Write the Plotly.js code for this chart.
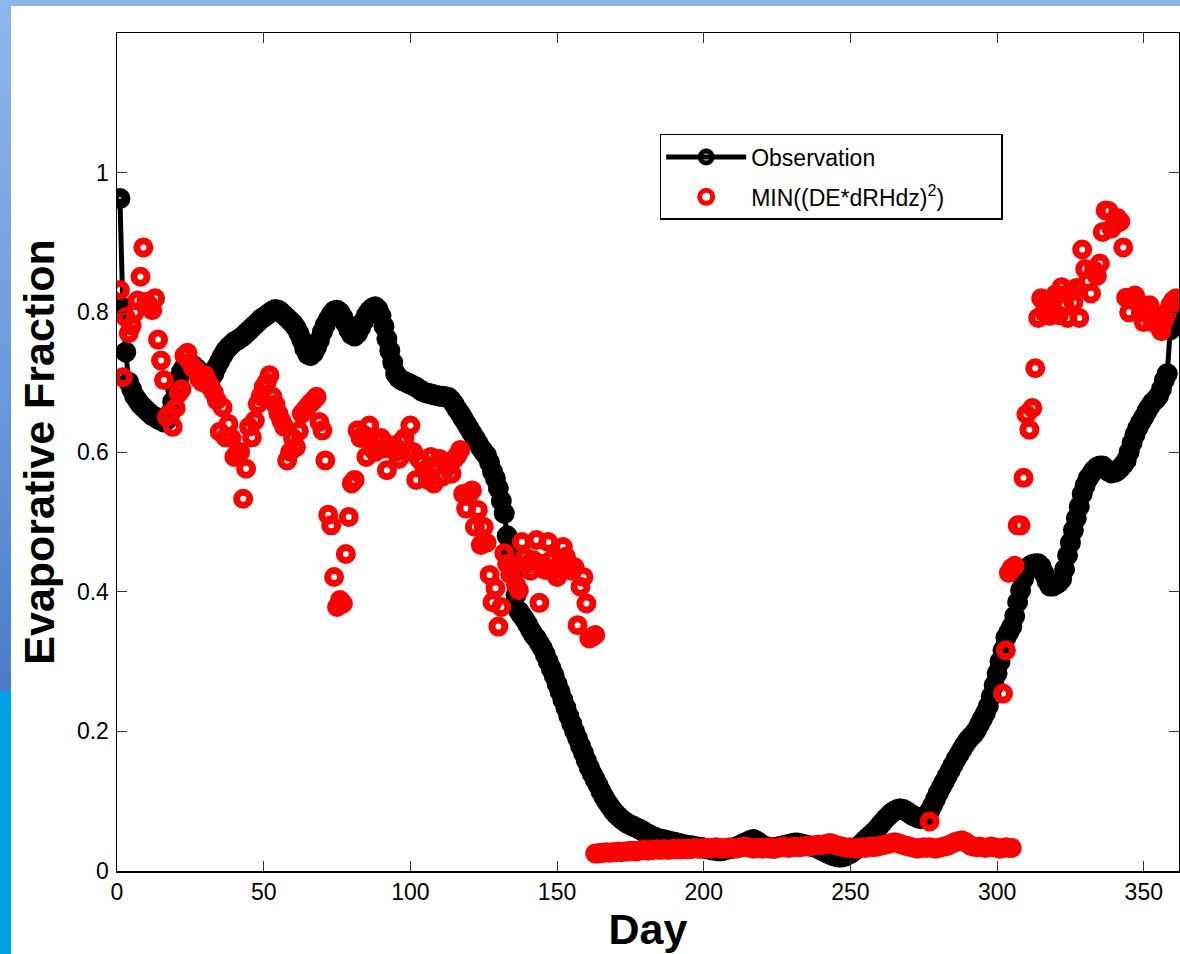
<!DOCTYPE html>
<html>
<head>
<meta charset="utf-8">
<script src="https://cdn.plot.ly/plotly-3.0.1.min.js"></script>
<style>
  html, body { margin: 0; padding: 0; background: #ffffff; }
  #wrap { position: relative; width: 1180px; height: 954px; overflow: hidden; background: #ffffff; }
  #topband { position: absolute; left: 0; top: 0; width: 1180px; height: 6px; background: #8fb5ed; z-index: 2; }
  #leftband { position: absolute; left: 0; top: 0; width: 11px; height: 954px; z-index: 2;
    background: linear-gradient(to bottom, #90b6ee 0px, #6f9ce0 350px, #4b7cca 690px, #009fe8 691px, #009fe8 954px); }
  #chart { position: absolute; left: 0; top: 0; width: 1180px; height: 954px; z-index: 1; }
</style>
</head>
<body>
<div id="wrap">
  <div id="chart"></div>
  <div id="topband"></div>
  <div id="leftband"></div>
</div>
<script>
// ---- Data ----
const obsFirstDay = 1;
const obsValues = [
  0.963, 0.807, 0.743, 0.700, 0.690, 0.680, 0.674, 0.668, 0.664, 0.660,
  0.656, 0.652, 0.650, 0.647, 0.645, 0.643, 0.646, 0.655, 0.672, 0.690,
  0.705, 0.715, 0.722, 0.726, 0.726, 0.724, 0.720, 0.716, 0.712, 0.708,
  0.705, 0.706, 0.712, 0.722, 0.730, 0.738, 0.745, 0.750, 0.754, 0.758,
  0.760, 0.763, 0.766, 0.770, 0.774, 0.778, 0.782, 0.786, 0.790, 0.793,
  0.796, 0.799, 0.802, 0.804, 0.803, 0.800, 0.796, 0.792, 0.788, 0.784,
  0.778, 0.770, 0.760, 0.748, 0.740, 0.738, 0.742, 0.750, 0.760, 0.772,
  0.782, 0.790, 0.797, 0.802, 0.803, 0.800, 0.793, 0.784, 0.775, 0.768,
  0.766, 0.770, 0.778, 0.787, 0.796, 0.802, 0.806, 0.808, 0.804, 0.795,
  0.780, 0.762, 0.745, 0.728, 0.712, 0.706, 0.703, 0.701, 0.699, 0.697,
  0.695, 0.693, 0.690, 0.687, 0.685, 0.684, 0.683, 0.682, 0.681, 0.680,
  0.680, 0.679, 0.678, 0.674, 0.668, 0.661, 0.655, 0.648, 0.641, 0.634,
  0.627, 0.620, 0.613, 0.606, 0.600, 0.595, 0.585, 0.572, 0.562, 0.548,
  0.530, 0.512, 0.480, 0.455, 0.425, 0.395, 0.372, 0.366, 0.360, 0.353,
  0.345, 0.338, 0.333, 0.326, 0.319, 0.310, 0.300, 0.290, 0.280, 0.268,
  0.257, 0.245, 0.234, 0.222, 0.211, 0.200, 0.190, 0.179, 0.169, 0.158,
  0.148, 0.139, 0.131, 0.123, 0.114, 0.106, 0.099, 0.093, 0.087, 0.082,
  0.078, 0.074, 0.071, 0.068, 0.066, 0.064, 0.062, 0.060, 0.058, 0.055,
  0.053, 0.051, 0.049, 0.047, 0.046, 0.045, 0.044, 0.043, 0.042, 0.041,
  0.040, 0.039, 0.038, 0.037, 0.036, 0.036, 0.035, 0.034, 0.034, 0.033,
  0.032, 0.031, 0.030, 0.030, 0.029, 0.029, 0.030, 0.031, 0.032, 0.033,
  0.034, 0.036, 0.038, 0.040, 0.042, 0.044, 0.045, 0.043, 0.040, 0.037,
  0.035, 0.034, 0.033, 0.033, 0.034, 0.035, 0.036, 0.037, 0.038, 0.039,
  0.040, 0.040, 0.039, 0.038, 0.037, 0.036, 0.035, 0.034, 0.032, 0.030,
  0.028, 0.026, 0.024, 0.022, 0.021, 0.020, 0.020, 0.021, 0.023, 0.025,
  0.028, 0.032, 0.036, 0.040, 0.044, 0.048, 0.052, 0.056, 0.060, 0.065,
  0.070, 0.075, 0.079, 0.083, 0.086, 0.088, 0.089, 0.088, 0.086, 0.083,
  0.080, 0.078, 0.076, 0.075, 0.076, 0.080, 0.086, 0.094, 0.103, 0.112,
  0.120, 0.128, 0.136, 0.144, 0.152, 0.160, 0.167, 0.174, 0.181, 0.187,
  0.192, 0.196, 0.202, 0.210, 0.218, 0.226, 0.236, 0.250, 0.266, 0.283,
  0.300, 0.316, 0.334, 0.342, 0.350, 0.365, 0.385, 0.402, 0.418, 0.430,
  0.436, 0.439, 0.440, 0.440, 0.436, 0.426, 0.415, 0.408, 0.408, 0.410,
  0.413, 0.418, 0.432, 0.452, 0.470, 0.488, 0.505, 0.522, 0.540, 0.552,
  0.562, 0.568, 0.574, 0.578, 0.580, 0.580, 0.576, 0.572, 0.570, 0.571,
  0.573, 0.577, 0.582, 0.588, 0.600, 0.613, 0.625, 0.635, 0.643, 0.650,
  0.658, 0.665, 0.671, 0.675, 0.680, 0.690, 0.703, 0.712, 0.775, 0.782,
  0.790
];

const minEarlyFirstDay = 1;
const minEarlyValues = [
  0.832, 0.707, 0.793, 0.770, 0.781, 0.800, 0.817, 0.851, 0.893, 0.815,
  0.810, 0.803, 0.820, 0.761, 0.731, 0.703, 0.650, 0.655, 0.636, 0.663,
  0.684, 0.690, 0.738, 0.742, 0.728, 0.720, 0.717, 0.705, 0.700, 0.710,
  0.700, 0.692, 0.685, 0.674, 0.629, 0.664, 0.621, 0.640, 0.620, 0.593,
  0.598, 0.600, 0.533, 0.576, 0.636, 0.621, 0.645, 0.669, 0.680, 0.693,
  0.700, 0.710, 0.679, 0.668, 0.655, 0.645, 0.636, 0.588, 0.600, 0.620,
  0.607, 0.630, 0.655, 0.660, 0.665, 0.670, 0.674, 0.679, 0.643, 0.631,
  0.588, 0.510, 0.495, 0.421, 0.378, 0.388, 0.383, 0.454, 0.507, 0.555,
  0.560, 0.631, 0.620, 0.625, 0.593, 0.638, 0.605, 0.600, 0.615, 0.620,
  0.605, 0.574, 0.610, 0.607, 0.600, 0.590, 0.615, 0.620, 0.600, 0.638,
  0.600, 0.560, 0.590, 0.585, 0.574, 0.560, 0.593, 0.555, 0.580, 0.590,
  0.565, 0.585, 0.580, 0.569, 0.590, 0.595, 0.603, 0.540, 0.519, 0.540,
  0.545, 0.493, 0.517, 0.467, 0.493, 0.470, 0.424, 0.385, 0.405, 0.350,
  0.378, 0.455, 0.440, 0.425, 0.435, 0.410, 0.402, 0.471, 0.450, 0.440,
  0.430, 0.445, 0.474, 0.384, 0.440, 0.431, 0.471, 0.445, 0.430, 0.421,
  0.440, 0.464, 0.450, 0.440, 0.430, 0.435, 0.352, 0.407, 0.421, 0.383,
  0.333, 0.335, 0.338
];

const minDryFirstDay = 163;
const minDryValues = [
  0.025, 0.025, 0.026, 0.026, 0.027, 0.026, 0.027, 0.027, 0.028, 0.027, 0.028, 0.028, 0.029,
  0.029, 0.028, 0.029, 0.030, 0.030, 0.029, 0.030, 0.030, 0.031, 0.030, 0.031, 0.031, 0.030,
  0.031, 0.032, 0.031, 0.031, 0.032, 0.032, 0.031, 0.032, 0.033, 0.032, 0.032, 0.033,
  0.033, 0.032, 0.033, 0.034, 0.033, 0.033, 0.032, 0.033, 0.034, 0.033, 0.032, 0.033, 0.034,
  0.035, 0.034, 0.033, 0.032, 0.033, 0.033, 0.032, 0.033, 0.034, 0.033, 0.032, 0.033,
  0.034, 0.035, 0.034, 0.033, 0.034, 0.035, 0.034, 0.034, 0.035, 0.036, 0.035, 0.036, 0.037,
  0.038, 0.037, 0.038, 0.039, 0.040, 0.039, 0.037, 0.036, 0.035, 0.034, 0.033, 0.034,
  0.033, 0.032, 0.033, 0.034, 0.033, 0.034, 0.035, 0.034, 0.035, 0.036, 0.037, 0.038, 0.039,
  0.040, 0.041, 0.040, 0.039, 0.037, 0.036, 0.035, 0.034, 0.033, 0.032, 0.033, 0.034,
  0.033, 0.034, 0.033, 0.032, 0.033, 0.034, 0.035, 0.036, 0.038, 0.040, 0.042, 0.043, 0.044,
  0.042, 0.039, 0.036, 0.035, 0.034, 0.035, 0.034, 0.033, 0.034, 0.035, 0.034, 0.033,
  0.032, 0.033, 0.034, 0.033, 0.033
];

const minOutlierDays = [277];
const minOutlierValues = [0.071];

const minLateFirstDay = 302;
const minLateValues = [
  0.254, 0.316, 0.427, 0.434, 0.437, 0.495, 0.495, 0.563, 0.654, 0.632,
  0.663, 0.720, 0.792, 0.820, 0.800, 0.815, 0.795, 0.817, 0.826, 0.796,
  0.836, 0.810, 0.792, 0.830, 0.814, 0.835, 0.792, 0.890, 0.862, 0.845,
  0.827, 0.860, 0.852, 0.870, 0.915, 0.946, 0.945, 0.920, 0.925, 0.935,
  0.930, 0.893, 0.821, 0.800, 0.820, 0.824, 0.815, 0.800, 0.786, 0.805,
  0.810, 0.786, 0.795, 0.780, 0.773, 0.790, 0.800, 0.810, 0.817, 0.820
];

const xTickVals = [0, 50, 100, 150, 200, 250, 300, 350];
const yTickVals = [0, 0.2, 0.4, 0.6, 0.8, 1];
const yTickText = ['0', '0.2', '0.4', '0.6', '0.8', '1'];

const obsName = 'Observation';
const minName = 'MIN((DE*dRHdz)<sup>2</sup>)';
const legendPad = '\u00a0\u00a0\u00a0\u00a0\u00a0\u00a0\u00a0\u00a0';
const xTitle = 'Day';
const yTitle = 'Evaporative Fraction';

// ---- Build traces ----
function daysFrom(first, values) { return values.map((_, i) => first + i); }

const obsDays = daysFrom(obsFirstDay, obsValues);
const minDays = [].concat(
  daysFrom(minEarlyFirstDay, minEarlyValues),
  daysFrom(minDryFirstDay, minDryValues),
  minOutlierDays,
  daysFrom(minLateFirstDay, minLateValues)
);
const minVals = [].concat(minEarlyValues, minDryValues, minOutlierValues, minLateValues);

const FONT = '"Liberation Sans", Arial, Helvetica, sans-serif';

const traces = [
  {
    x: obsDays, y: obsValues, name: obsName, type: 'scatter', mode: 'lines+markers',
    legendgroup: 'obs',
    line: { color: '#000000', width: 5 },
    marker: { symbol: 'circle-open', size: 12, color: '#000000', line: { width: 9, color: '#000000' } },
    cliponaxis: true
  },
  {
    x: minDays, y: minVals, name: minName + legendPad, type: 'scatter', mode: 'markers',
    legendgroup: 'min',
    marker: { symbol: 'circle-open', size: 13, color: '#ff0000', line: { width: 7, color: '#ff0000' } },
    cliponaxis: true
  }
];

const layout = {
  width: 1180, height: 954,
  margin: { l: 117, r: 1, t: 33, b: 83, pad: 0 },
  paper_bgcolor: '#ffffff', plot_bgcolor: '#ffffff',
  font: { family: FONT, color: '#000000', size: 23 },
  showlegend: true,
  legend: {
    x: 0.511, y: 0.8795, xanchor: 'left', yanchor: 'top',
    bgcolor: '#ffffff', bordercolor: '#000000', borderwidth: 1.5,
    font: { family: FONT, size: 23, color: '#000000' },
    itemwidth: 80, traceorder: 'grouped', tracegroupgap: 7
  },
  xaxis: {
    range: [0, 362], tickvals: xTickVals, ticktext: xTickVals.map(String),
    showgrid: false, zeroline: false, showline: true, mirror: 'ticks',
    linecolor: '#000000', linewidth: 1.5, ticks: 'inside', ticklen: 10, tickwidth: 1, tickcolor: '#333333',
    tickfont: { family: FONT, size: 23, color: '#000000' }, ticklabelstandoff: 0,
    title: { text: xTitle, font: { family: FONT, size: 43, color: '#000000', weight: 'bold' }, standoff: 9 }
  },
  yaxis: {
    range: [0, 1.2], tickvals: yTickVals, ticktext: yTickText,
    showgrid: false, zeroline: false, showline: true, mirror: 'ticks',
    linecolor: '#000000', linewidth: 1.5, ticks: 'inside', ticklen: 10, tickwidth: 1, tickcolor: '#333333',
    tickfont: { family: FONT, size: 23, color: '#000000' }, ticklabelstandoff: 2,
    title: { text: yTitle, font: { family: FONT, size: 43, color: '#000000', weight: 'bold' }, standoff: 9 }
  }
};

Plotly.newPlot('chart', traces, layout, { displayModeBar: false, staticPlot: true });
</script>
</body>
</html>
